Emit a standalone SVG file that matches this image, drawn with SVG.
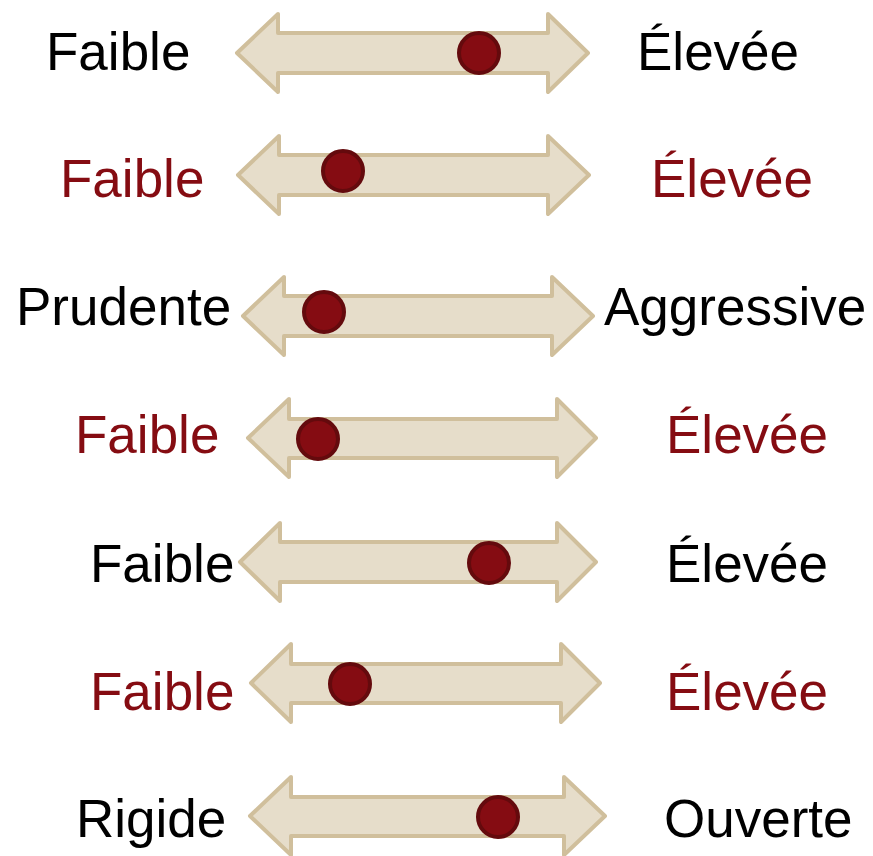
<svg xmlns="http://www.w3.org/2000/svg" width="873" height="856" viewBox="0 0 873 856">
  <style>
    .bar { fill: #E6DDCA; stroke: #D0BF9C; stroke-width: 4; stroke-linejoin: round; }
    .dot { fill: #850C12; stroke: #640A0D; stroke-width: 4; }
    .lbl { font-family: "Liberation Sans", Arial, sans-serif; font-size: 53px; fill: #000; }
    .red { fill: #850C12; }
  </style>
  <rect width="873" height="856" fill="#fff"/>

  <!-- double-headed scales -->
  <g id="connectors">
    <path class="bar" d="M237,53 L278,14 L278,33 L548,33 L548,14 L588,53 L548,92 L548,73 L278,73 L278,92 Z"/>
    <path class="bar" d="M238,175 L279,136 L279,155 L548,155 L548,136 L589,175 L548,214 L548,195 L279,195 L279,214 Z"/>
    <path class="bar" d="M243,316 L284,277 L284,296 L552,296 L552,277 L593,316 L552,355 L552,336 L284,336 L284,355 Z"/>
    <path class="bar" d="M248,438 L289,399 L289,419 L557,419 L557,399 L596,438 L557,477 L557,458 L289,458 L289,477 Z"/>
    <path class="bar" d="M240,562 L280,523 L280,542 L557,542 L557,523 L596,562 L557,601 L557,582 L280,582 L280,601 Z"/>
    <path class="bar" d="M251,683 L291,644 L291,664 L561,664 L561,644 L600,683 L561,722 L561,703 L291,703 L291,722 Z"/>
    <path class="bar" d="M250,816 L291,777 L291,797 L564,797 L564,777 L605,816 L564,855 L564,836 L291,836 L291,855 Z"/>
  </g>

  <g id="row1">
    <text class="lbl" x="46" y="70">Faible</text>
    <text class="lbl" x="637" y="70">Élevée</text>
    <circle class="dot" cx="479" cy="53" r="20"/>
  </g>
  <g id="row2">
    <text class="lbl red" x="60" y="197">Faible</text>
    <text class="lbl red" x="651" y="197">Élevée</text>
    <circle class="dot" cx="343" cy="171" r="20"/>
  </g>
  <g id="row3">
    <text class="lbl" x="16" y="325">Prudente</text>
    <text class="lbl" x="604" y="325">Aggressive</text>
    <circle class="dot" cx="324" cy="312" r="20"/>
  </g>
  <g id="row4">
    <text class="lbl red" x="75" y="453">Faible</text>
    <text class="lbl red" x="666" y="453">Élevée</text>
    <circle class="dot" cx="318" cy="439" r="20"/>
  </g>
  <g id="row5">
    <text class="lbl" x="90" y="582">Faible</text>
    <text class="lbl" x="666" y="582">Élevée</text>
    <circle class="dot" cx="489" cy="563" r="20"/>
  </g>
  <g id="row6">
    <text class="lbl red" x="90" y="710">Faible</text>
    <text class="lbl red" x="666" y="710">Élevée</text>
    <circle class="dot" cx="350" cy="684" r="20"/>
  </g>
  <g id="row7">
    <text class="lbl" x="76" y="837">Rigide</text>
    <text class="lbl" x="664" y="837">Ouverte</text>
    <circle class="dot" cx="498" cy="817" r="20"/>
  </g>
</svg>
